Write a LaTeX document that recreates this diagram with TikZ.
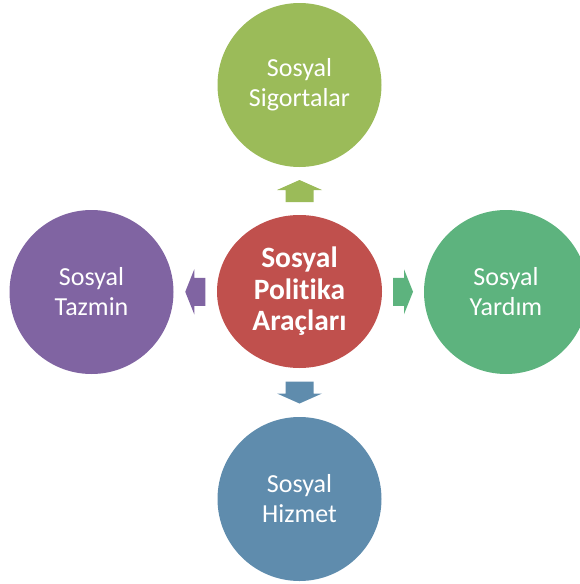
\documentclass[tikz,border=0pt]{standalone}
\usepackage{fontspec}
\setmainfont{Carlito}[Ligatures=NoCommon]
\usetikzlibrary{shapes.geometric,calc}

\definecolor{sigcol}{HTML}{9BBB59}
\definecolor{polcol}{HTML}{C0504D}
\definecolor{yarcol}{HTML}{5DB37E}
\definecolor{hizcol}{HTML}{5F8CAD}
\definecolor{tazcol}{HTML}{8064A2}

\tikzset{
  tool/.style={circle, fill=#1, minimum size=164pt, inner sep=0pt, text=white,
    align=center, font=\fontsize{26}{30}\selectfont}
}

\begin{document}
\begin{tikzpicture}[x=1pt,y=-1pt]
    \clip (0,0) rectangle (580,584);
    \node[ellipse, fill=polcol, minimum width=165pt, minimum height=153pt, inner sep=0pt,
      text=white, align=center, font=\fontsize{29.5}{31.5}\selectfont\bfseries] (ctr) at (299.5,291.5)
      {Sosyal\\Politika\\Araçları};
    \node[tool=sigcol] (sig) at (299.5,85) {Sosyal\\Sigortalar};
    \node[tool=yarcol] (yar) at (506,292) {Sosyal\\Yardım};
    \node[tool=hizcol] (hiz) at (299.5,499) {Sosyal\\Hizmet};
    \node[tool=tazcol] (taz) at (91.5,292) {Sosyal\\Tazmin};
    % arrows between the middle and the four tools
    \coordinate (up) at ($(ctr.north)!0.5!(sig.south)$);
    \coordinate (right) at ($(ctr.east)!0.5!(yar.west)$);
    \coordinate (down) at ($(ctr.south)!0.5!(hiz.north)$);
    \coordinate (left) at ($(ctr.west)!0.5!(taz.east)$);
    \fill[sigcol, shift={(up)}] (0,-11) -- (22.5,-1) -- (14,-1) -- (14,11) -- (-14,11) -- (-14,-1) -- (-22.5,-1) -- cycle;
    \fill[hizcol, shift={(down)}] (0,11) -- (22.5,1) -- (14,1) -- (14,-11) -- (-14,-11) -- (-14,1) -- (-22.5,1) -- cycle;
    \fill[yarcol, shift={(right)}] (10,0) -- (1,22.5) -- (1,14) -- (-10,14) -- (-10,-14) -- (1,-14) -- (1,-22.5) -- cycle;
    \fill[tazcol, shift={(left)}] (-10,0) -- (-1,22.5) -- (-1,14) -- (10,14) -- (10,-14) -- (-1,-14) -- (-1,-22.5) -- cycle;
\end{tikzpicture}
\end{document}
